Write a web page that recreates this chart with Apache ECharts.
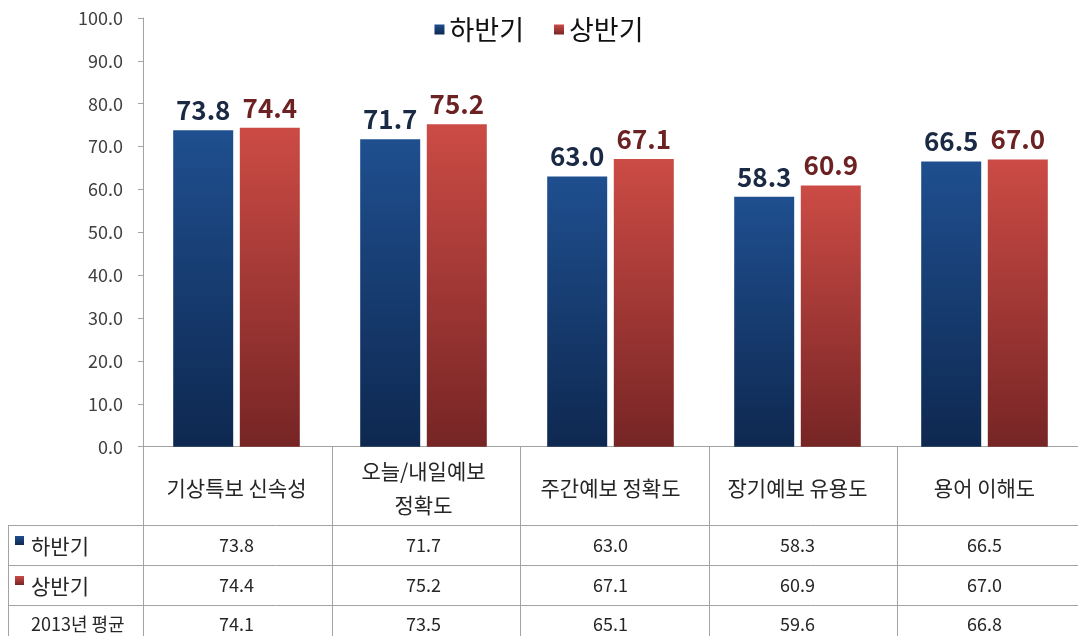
<!DOCTYPE html>
<html>
<head>
<meta charset="utf-8">
<script src="https://cdn.jsdelivr.net/npm/echarts@6/dist/echarts.min.js"></script>
<style>
  html, body { margin: 0; padding: 0; background: #fff; }
  #chart { width: 1078px; height: 636px; }
</style>
</head>
<body>
<div id="chart"></div>
<script>
// categories and series values
const categories = ['기상특보 신속성', '오늘/내일예보\n정확도', '주간예보 정확도', '장기예보 유용도', '용어 이해도']
const secondHalf = [73.8, 71.7, 63.0, 58.3, 66.5]   // 하반기
const firstHalf = [74.4, 75.2, 67.1, 60.9, 67.0]    // 상반기
const yearAvg = [74.1, 73.5, 65.1, 59.6, 66.8]      // 2013년 평균
const yTicks = [0, 10, 20, 30, 40, 50, 60, 70, 80, 90, 100]

const FONT = '"Noto Sans CJK KR", "Noto Sans", sans-serif'
const GRID_LEFT = 143
const GRID_TOP = 18
const GRID_W = 943
const GRID_H = 428.7
const AXIS_Y = GRID_TOP + GRID_H
const LINE = '#a3a3a3'

const chart = echarts.init(document.getElementById('chart'), null, { renderer: 'canvas' })

const blueFill = new echarts.graphic.LinearGradient(0, 0, 0, 1, [
  { offset: 0, color: '#1f4f8f' },
  { offset: 1, color: '#0e2850' }
])
const redFill = new echarts.graphic.LinearGradient(0, 0, 0, 1, [
  { offset: 0, color: '#cc4b45' },
  { offset: 1, color: '#762525' }
])

// extra category axes that only carry the table rows' text
function tableAxis (values, centerY) {
  return {
    type: 'category',
    gridIndex: 0,
    position: 'bottom',
    data: categories,
    axisLine: { show: false },
    axisTick: { show: false },
    axisLabel: {
      margin: centerY - AXIS_Y,
      verticalAlign: 'middle',
      fontFamily: FONT,
      fontSize: 18,
      color: '#262626',
      formatter: (v, i) => values[i].toFixed(1)
    }
  }
}

const catW = GRID_W / 5
const graphics = []
function hline (x1, x2, y) {
  graphics.push({ type: 'line', silent: true, shape: { x1, y1: y, x2, y2: y }, style: { stroke: LINE, lineWidth: 1 } })
}
function vline (x, y1, y2) {
  graphics.push({ type: 'line', silent: true, shape: { x1: x, y1, x2: x, y2 }, style: { stroke: LINE, lineWidth: 1 } })
}
hline(8, 1078, 525.5)
hline(8, 1078, 565.5)
hline(8, 1078, 605.5)
vline(8.5, 525, 636)
for (let i = 1; i < 5; i++) vline(Math.round(GRID_LEFT + i * catW) + 0.5, AXIS_Y, 636)
vline(GRID_LEFT + 0.5, AXIS_Y, 636)

graphics.push(
  { type: 'rect', shape: { x: 15, y: 536, width: 9, height: 9 }, style: { fill: blueFill } },
  { type: 'rect', shape: { x: 15, y: 576, width: 9, height: 9 }, style: { fill: redFill } },
  { type: 'text', x: 31, y: 546, style: { text: '하반기', font: '21px ' + FONT, fill: '#262626', verticalAlign: 'middle' } },
  { type: 'text', x: 31, y: 586, style: { text: '상반기', font: '21px ' + FONT, fill: '#262626', verticalAlign: 'middle' } },
  { type: 'text', x: 31, y: 624, style: { text: '2013년 평균', font: '18px ' + FONT, fill: '#262626', verticalAlign: 'middle' } }
)

const barLabel = color => ({
  show: true,
  position: 'top',
  distance: 7,
  fontFamily: FONT,
  fontSize: 26,
  fontWeight: 'bold',
  color: color,
  formatter: p => p.value.toFixed(1)
})

const option = {
  animation: false,
  backgroundColor: '#fff',
  textStyle: { fontFamily: FONT },
  legend: {
    top: 11,
    left: 'center',
    icon: 'rect',
    itemWidth: 10,
    itemHeight: 10,
    itemGap: 30,
    textStyle: { fontSize: 27, color: '#111', fontFamily: FONT },
    data: ['하반기', '상반기']
  },
  grid: { left: GRID_LEFT, top: GRID_TOP, width: GRID_W, height: GRID_H },
  xAxis: [
    {
      type: 'category',
      position: 'bottom',
      data: categories,
      axisLine: { lineStyle: { color: LINE } },
      axisTick: { show: false },
      axisLabel: {
        margin: 488 - AXIS_Y,
        verticalAlign: 'middle',
        fontFamily: FONT,
        fontSize: 21,
        lineHeight: 34,
        color: '#262626'
      }
    },
    tableAxis(secondHalf, 545),
    tableAxis(firstHalf, 585),
    tableAxis(yearAvg, 624)
  ],
  yAxis: {
    type: 'value',
    min: yTicks[0],
    max: yTicks[yTicks.length - 1],
    interval: 10,
    axisLine: { show: true, lineStyle: { color: LINE } },
    axisTick: { show: true, length: 5, lineStyle: { color: LINE } },
    splitLine: { show: false },
    axisLabel: {
      margin: 20,
      fontFamily: FONT,
      fontSize: 18,
      color: '#404040',
      formatter: v => v.toFixed(1)
    }
  },
  series: [
    {
      name: '하반기',
      type: 'bar',
      barWidth: 60,
      barGap: '11%',
      data: secondHalf,
      itemStyle: { color: blueFill },
      label: barLabel('#1a2944')
    },
    {
      name: '상반기',
      type: 'bar',
      barWidth: 60,
      barGap: '11%',
      data: firstHalf,
      itemStyle: { color: redFill },
      label: barLabel('#6c2222')
    }
  ],
  graphic: graphics
}

chart.setOption(option)
</script>
</body>
</html>
